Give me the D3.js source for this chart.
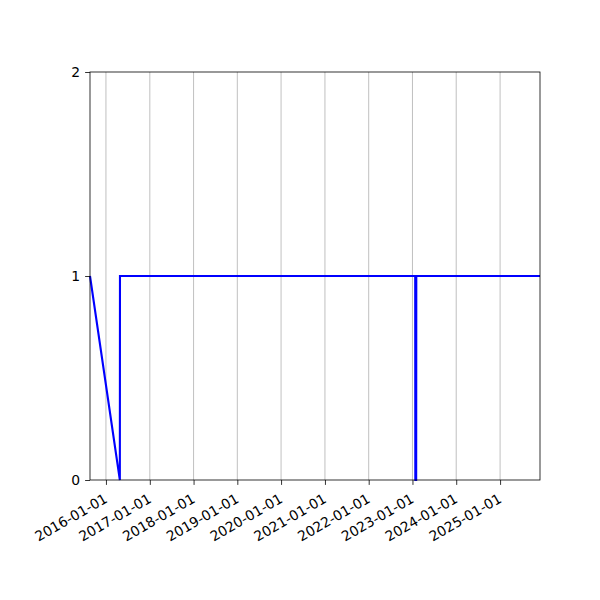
<!DOCTYPE html>
<html>
<head>
<meta charset="utf-8">
<script src="https://cdn.jsdelivr.net/npm/d3@7"></script>
<style>
  body { margin: 0; background: #fff; }
  text { font-family: "DejaVu Sans", sans-serif; font-size: 13.9px; fill: #000; }
</style>
</head>
<body>
<div id="chart"></div>
<script>
// data
const dates = ["2015-08-21", "2016-04-26", "2016-04-27", "2023-01-24", "2023-01-25", "2023-02-01", "2023-02-02", "2025-11-30"];
const values = [1, 0, 1, 1, 0, 0, 1, 1];
const xTickLabels = ["2016-01-01", "2017-01-01", "2018-01-01", "2019-01-01", "2020-01-01",
  "2021-01-01", "2022-01-01", "2023-01-01", "2024-01-01", "2025-01-01"];
const yTicks = [0, 1, 2];

let parse = d3.timeParse("%Y-%m-%d");
let data = dates.map((d, i) => ({ date: parse(d), value: values[i] }));

let width = 600;
let height = 600;
let plotLeft = 90, plotRight = 540, plotTop = 72, plotBottom = 480;

let svg = d3.select("#chart")
  .append("svg")
  .attr("width", width)
  .attr("height", height);

let x = d3.scaleTime()
  .domain(d3.extent(data, d => d.date))
  .range([plotLeft, plotRight]);
let y = d3.scaleLinear()
  .domain([0, 2])
  .range([plotBottom, plotTop]);

let tickDates = xTickLabels.map(parse);

// vertical grid only
svg.append("g")
  .selectAll("line")
  .data(tickDates)
  .enter()
  .append("line")
  .attr("x1", d => x(d))
  .attr("x2", d => x(d))
  .attr("y1", plotTop)
  .attr("y2", plotBottom)
  .attr("stroke", "#b0b0b0")
  .attr("stroke-width", 0.8);

let line = d3.line()
  .x(d => x(d.date))
  .y(d => y(d.value));

svg.append("path")
  .datum(data)
  .attr("d", line)
  .attr("fill", "none")
  .attr("stroke", "#0000ff")
  .attr("stroke-width", 2.1)
  .attr("stroke-linejoin", "miter");

// frame
svg.append("rect")
  .attr("x", plotLeft)
  .attr("y", plotTop)
  .attr("width", plotRight - plotLeft)
  .attr("height", plotBottom - plotTop)
  .attr("fill", "none")
  .attr("stroke", "#000")
  .attr("stroke-width", 0.8);

// x axis
let xAxis = svg.append("g")
  .attr("transform", "translate(0," + plotBottom + ")")
  .call(d3.axisBottom(x).tickValues(tickDates).tickSize(4.9).tickFormat(d3.timeFormat("%Y-%m-%d")));
xAxis.select(".domain").remove();
xAxis.selectAll("line").attr("stroke-width", 0.8);
xAxis.selectAll("text")
  .attr("y", 0)
  .attr("dy", 0)
  .attr("text-anchor", "end")
  .attr("transform", "translate(2,21.5) rotate(-30)")
  .style("font-family", "DejaVu Sans")
  .style("font-size", "13.9px");

// y axis
let yAxis = svg.append("g")
  .attr("transform", "translate(" + plotLeft + ",0)")
  .call(d3.axisLeft(y).tickValues(yTicks).tickSize(4.9).tickPadding(4.9).tickFormat(d3.format("d")));
yAxis.select(".domain").remove();
yAxis.selectAll("line").attr("stroke-width", 0.8);
yAxis.selectAll("text")
  .style("font-family", "DejaVu Sans")
  .style("font-size", "13.9px");
</script>
</body>
</html>
